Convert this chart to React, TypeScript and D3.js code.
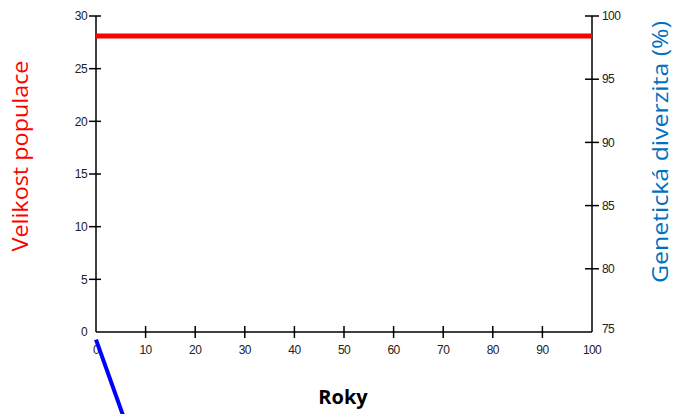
import * as d3 from "d3";

const W = 675;
const H = 414;
const PLOT = { left: 96, right: 592, top: 16, bottom: 332 };

const years = [0, 10, 20, 30, 40, 50, 60, 70, 80, 90, 100];
const popTicks = [0, 5, 10, 15, 20, 25, 30];
const divTicks = [75, 80, 85, 90, 95, 100];

// population stays flat over the whole period
const popYears = [0, 100];
const popValues = [28.1, 28.1];

// diversity line starts below the axis range and leaves the picture
const divYears = [0, 6];
const divValues = [74.4, 67.8];

const x = d3.scaleLinear().domain([0, 100]).range([PLOT.left, PLOT.right]);
const yPop = d3.scaleLinear().domain([0, 30]).range([PLOT.bottom, PLOT.top]);
const yDiv = d3.scaleLinear().domain([75, 100]).range([PLOT.bottom, PLOT.top]);

const tickFont = "'Liberation Sans', Arial, sans-serif";
const labelFont = "'Open Sans', 'Noto Sans', sans-serif";

export default function App() {
	const popLine = d3
		.line<number>()
		.x((_, i) => x(popYears[i]))
		.y((d) => yPop(d))(popValues);
	const divLine = d3
		.line<number>()
		.x((_, i) => x(divYears[i]))
		.y((d) => yDiv(d))(divValues);

	return (
		<svg
			width={W}
			height={H}
			style={{ position: "absolute", left: 0, top: 0, background: "#fff" }}
		>
			{/* axes */}
			<g stroke="#000" strokeWidth={1.5} fill="none">
				<line x1={PLOT.left} x2={PLOT.left} y1={PLOT.top} y2={PLOT.bottom} />
				<line x1={PLOT.right} x2={PLOT.right} y1={PLOT.top} y2={PLOT.bottom} />
				<line x1={PLOT.left} x2={PLOT.right} y1={PLOT.bottom} y2={PLOT.bottom} />
				{popTicks.slice(1).map((t) => (
					<line key={t} x1={PLOT.left - 7} x2={PLOT.left + 5} y1={yPop(t)} y2={yPop(t)} />
				))}
				{divTicks.slice(1).map((t) => (
					<line key={t} x1={PLOT.right - 7} x2={PLOT.right + 7} y1={yDiv(t)} y2={yDiv(t)} />
				))}
				{years.slice(1, -1).map((t) => (
					<line key={t} x1={x(t)} x2={x(t)} y1={PLOT.bottom - 6} y2={PLOT.bottom + 6} />
				))}
			</g>

			{/* tick labels */}
			<g fontFamily={tickFont} fontSize={12} fill="#222" letterSpacing={-0.6}>
				{popTicks.map((t) => (
					<text key={t} x={PLOT.left - 9} y={yPop(t)} dy="0.35em" textAnchor="end">
						{t}
					</text>
				))}
				{divTicks.map((t) => (
					<text key={t} x={PLOT.right + 10} y={yDiv(t)} dy={t === 75 ? "0.1em" : "0.35em"}>
						{t}
					</text>
				))}
				{years.map((t) => (
					<text key={t} x={x(t)} y={PLOT.bottom + 22} textAnchor="middle">
						{t}
					</text>
				))}
			</g>

			{/* data */}
			<path d={popLine ?? ""} stroke="#ff0000" strokeWidth={5} fill="none" />
			<path d={divLine ?? ""} stroke="#0000ff" strokeWidth={4} fill="none" />

			{/* axis titles */}
			<text
				transform="translate(28,156) rotate(-90)"
				textAnchor="middle"
				fontFamily={labelFont}
				fontSize={22}
				textLength={191}
				lengthAdjust="spacingAndGlyphs"
				fill="#ff0000"
			>
				Velikost populace
			</text>
			<text
				transform="translate(668,152) rotate(-90)"
				textAnchor="middle"
				fontFamily={labelFont}
				fontSize={22}
				textLength={262}
				lengthAdjust="spacingAndGlyphs"
				fill="#0070c0"
			>
				Genetická diverzita (%)
			</text>
			<text
				x={343}
				y={404}
				textAnchor="middle"
				fontFamily={labelFont}
				fontSize={20}
				fontWeight="bold"
				fill="#000"
			>
				Roky
			</text>
		</svg>
	);
}
